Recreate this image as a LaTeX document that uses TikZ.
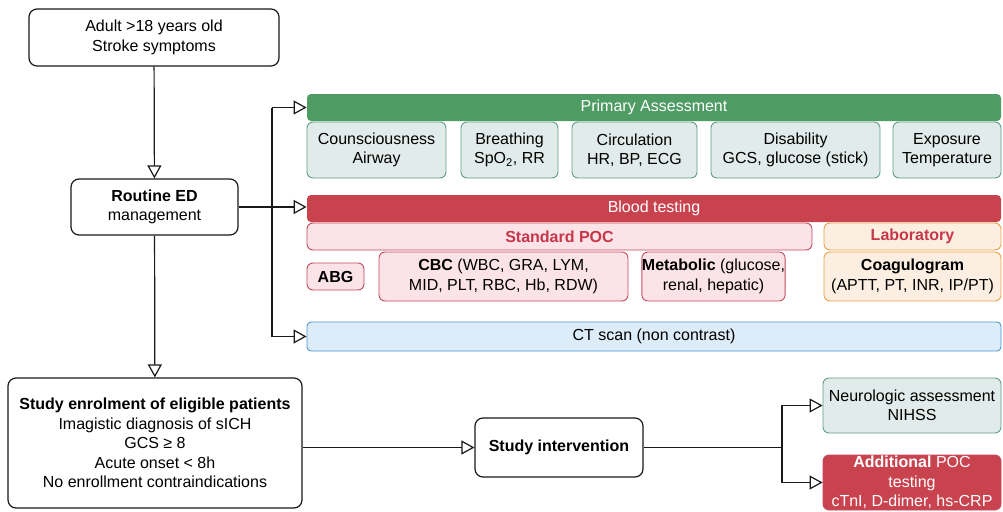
\documentclass[tikz,border=0pt]{standalone}
\usepackage{fontspec}
\setmainfont{Liberation Sans}
\usetikzlibrary{arrows.meta}

\definecolor{paGreen}{HTML}{4E9B63}
\definecolor{paEdge}{HTML}{5F9E86}
\definecolor{paFill}{HTML}{E1EBEA}
\definecolor{btRed}{HTML}{C9434F}
\definecolor{btEdge}{HTML}{C44A5C}
\definecolor{btFill}{HTML}{FBE3E8}
\definecolor{btText}{HTML}{C8364A}
\definecolor{labEdge}{HTML}{E6A24A}
\definecolor{labFill}{HTML}{FCEFE1}
\definecolor{ctEdge}{HTML}{4D95CF}
\definecolor{ctFill}{HTML}{DCECF8}

\newcommand{\flowfont}{\fontsize{16}{19.5}\selectfont}

\tikzset{
  flowbox/.style={draw=black!90, line width=1.2pt, rounded corners=8pt, fill=white,
    align=center, inner sep=0pt},
  bar/.style={line width=0.8pt, rounded corners=4pt, align=center, inner sep=0pt,
    text=white},
  pabox/.style={draw=paEdge, fill=paFill, line width=0.9pt, rounded corners=6pt,
    align=center, inner sep=0pt, minimum height=56},
  btbox/.style={draw=btEdge, fill=btFill, line width=0.9pt, rounded corners=6pt,
    align=center, inner sep=0pt},
  labbox/.style={draw=labEdge, fill=labFill, line width=0.9pt, rounded corners=6pt,
    align=center, inner sep=0pt},
  flowline/.style={draw=black!90, line width=1.2pt},
  flowarrow/.style={flowline, -{Triangle[open, length=13pt, width=14pt]}}
}

\begin{document}
\begin{tikzpicture}[x=1pt, y=-1pt, font=\flowfont]
      \useasboundingbox (0,0) rectangle (1003,511);

      % left column
      \node[flowbox, minimum width=250, minimum height=57] (adult) at (154,37.5)
            {Adult >18 years old\\Stroke symptoms};
      \node[flowbox, minimum width=167, minimum height=56] (routine) at (154.5,207)
            {\textbf{Routine ED}\\management};
      \node[flowbox, minimum width=294, minimum height=130] (enrol) at (155,443)
            {\textbf{Study enrolment of eligible patients}\\Imagistic diagnosis of sICH\\GCS ≥ 8\\Acute onset < 8h\\No enrollment contraindications};

      % primary assessment
      \node[bar, fill=paGreen, minimum width=694, minimum height=27] (prim) at (654,107.5)
            {Primary Assessment};
      \node[pabox, minimum width=139] (conc) at (376.5,150) {Counsciousness\\Airway};
      \node[pabox, minimum width=97] (breath) at (509.5,150) {Breathing\\SpO\textsubscript{2}, RR};
      \node[pabox, minimum width=125] (circ) at (634.5,150) {Circulation\\HR, BP, ECG};
      \node[pabox, minimum width=169] (disab) at (795.5,150) {Disability\\GCS, glucose (stick)};
      \node[pabox, minimum width=108] (expo) at (947,150) {Exposure\\Temperature};

      % blood testing
      \node[bar, fill=btRed, minimum width=694, minimum height=27] (blood) at (654,208.5)
            {Blood testing};
      \node[btbox, minimum width=505, minimum height=27, text=btText, font=\flowfont\bfseries] (stdpoc) at (559.5,236.5)
            {Standard POC};
      \node[labbox, minimum width=177, minimum height=27, text=btText, font=\flowfont\bfseries] (lab) at (912.5,236.5)
            {Laboratory};
      \node[btbox, minimum width=57, minimum height=27, font=\flowfont\bfseries] (abg) at (335.5,276.5) {ABG};
      \node[btbox, minimum width=249, minimum height=49] (cbc) at (503.5,276.5)
            {\textbf{CBC} (WBC, GRA, LYM,\\MID, PLT, RBC, Hb, RDW)};
      \node[btbox, minimum width=143, minimum height=49] (metab) at (713.5,276.5)
            {\textbf{Metabolic} (glucose,\\renal, hepatic)};
      \node[labbox, minimum width=177, minimum height=49] (coag) at (912.5,276.5)
            {\textbf{Coagulogram}\\(APTT, PT, INR, IP/PT)};

      % imaging
      \node[draw=ctEdge, fill=ctFill, line width=0.9pt, rounded corners=4pt, inner sep=0pt,
            minimum width=694, minimum height=29] (ct) at (654,336.5) {CT scan (non contrast)};

      % study part
      \node[flowbox, minimum width=168, minimum height=59] (interv) at (559,447.5)
            {\textbf{Study intervention}};
      \node[pabox, minimum width=178, minimum height=55] (neuro) at (912,405.5)
            {Neurologic assessment\\NIHSS};
      \node[bar, draw=btEdge, fill=btRed, rounded corners=6pt, minimum width=178, minimum height=55] (addit) at (912,482.5)
            {\textbf{Additional} POC\\testing\\cTnI, D-dimer, hs-CRP};

      \coordinate (split) at (272,207);
      \coordinate (fork) at (782,447.5);

      % connectors
      \draw[flowarrow] (adult) -- (routine);
      \draw[flowarrow] (routine) -- (enrol);
      \draw[flowarrow] (routine.east) -- (routine.east -| blood.west);
      \draw[flowline] (split |- prim.west) -- (split |- ct.west);
      \draw[flowarrow] (split |- prim.west) -- (prim.west);
      \draw[flowarrow] (split |- ct.west) -- (ct.west);
      \draw[flowarrow] (enrol.east |- interv.west) -- (interv.west);
      \draw[flowline] (interv.east) -- (fork);
      \draw[flowarrow] (fork) |- (neuro.west);
      \draw[flowarrow] (fork) |- (addit.west);
\end{tikzpicture}
\end{document}
